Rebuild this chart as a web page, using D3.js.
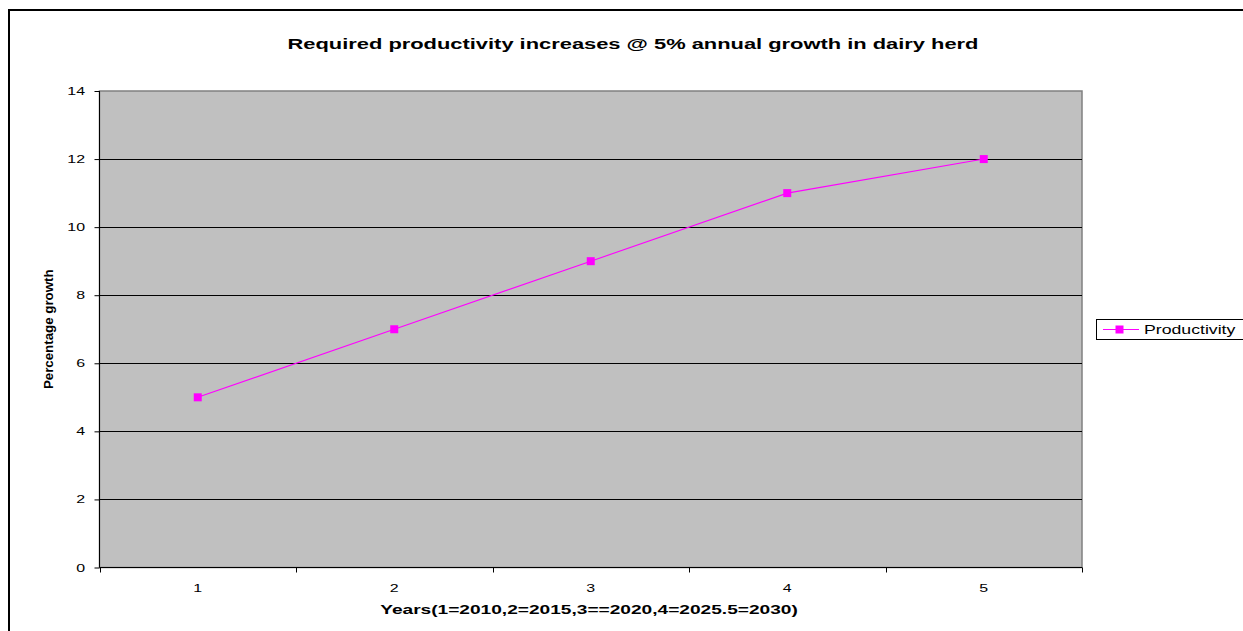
<!DOCTYPE html>
<html>
<head>
<meta charset="utf-8">
<script src="https://cdn.jsdelivr.net/npm/d3@7"></script>
<style>
  html, body { margin: 0; padding: 0; background: #fff; }
  svg { display: block; }
  text { font-family: Arial, "Liberation Sans", sans-serif; fill: #000; }
</style>
</head>
<body>
<svg id="chart" width="1243" height="631"></svg>
<script>
// Chart data
const categories = ["1", "2", "3", "4", "5"];
const productivity = [5, 7, 9, 11, 12];
const yTicks = [0, 2, 4, 6, 8, 10, 12, 14];
const seriesName = "Productivity";
const titleText = "Required productivity increases @ 5% annual growth in dairy herd";
const xTitleText = "Years(1=2010,2=2015,3==2020,4=2025.5=2030)";
const yTitleText = "Percentage growth";

const svg = d3.select("#chart");
const W = 1243, H = 631;
const plot = { left: 99.5, top: 91, right: 1082, bottom: 567.5 };

// Text in this chart uses a wide, horizontally stretched face
function label(parent, x, y, str, opts) {
  const o = Object.assign({ size: 12, weight: "normal", anchor: "start", sx: 1, rotate: 0 }, opts);
  const g = parent.append("g")
    .attr("transform", `translate(${x},${y}) rotate(${o.rotate}) scale(${o.sx},1)`);
  g.append("text")
    .attr("font-size", o.size).attr("font-weight", o.weight)
    .attr("text-anchor", o.anchor).text(str);
  return g;
}

// Outer chart frame (runs past the right and bottom edges)
svg.append("rect")
  .attr("x", 9).attr("y", 10)
  .attr("width", W + 20).attr("height", H + 20)
  .attr("fill", "#fff").attr("stroke", "#000").attr("stroke-width", 2);

const x = d3.scaleBand().domain(categories).range([plot.left, plot.right]);
const y = d3.scaleLinear().domain([0, 14]).range([plot.bottom, plot.top]);

// Plot area background
svg.append("rect")
  .attr("x", plot.left).attr("y", plot.top)
  .attr("width", plot.right - plot.left).attr("height", plot.bottom - plot.top)
  .attr("fill", "#c0c0c0").attr("stroke", "#808080").attr("stroke-width", 1.5);

// Horizontal gridlines
svg.append("g").selectAll("line")
  .data(yTicks.filter(d => d > 0 && d < 14))
  .join("line")
  .attr("x1", plot.left).attr("x2", plot.right)
  .attr("y1", d => Math.round(y(d)) + 0.5).attr("y2", d => Math.round(y(d)) + 0.5)
  .attr("stroke", "#000").attr("stroke-width", 1);

// Y axis
const yAxis = d3.axisLeft(y).tickValues(yTicks).tickSize(5).tickFormat(d3.format("d"));
const gy = svg.append("g").attr("transform", `translate(${plot.left},0)`).call(yAxis);
gy.select(".domain").attr("stroke", "#000").attr("d", `M0,${plot.top}V${plot.bottom}`);
gy.selectAll(".tick line").attr("stroke", "#000");
gy.selectAll(".tick text")
  .attr("font-size", 11).attr("fill", "#000")
  .attr("font-family", "Arial, 'Liberation Sans', sans-serif")
  .attr("transform", "scale(1.45,1)")
  .attr("x", -14.5 / 1.45);

// X axis: ticks at category boundaries, labels centered in each band
const gx = svg.append("g").attr("transform", `translate(0,${plot.bottom})`);
gx.append("line").attr("x1", plot.left).attr("x2", plot.right)
  .attr("y1", 0).attr("y2", 0).attr("stroke", "#000").attr("stroke-width", 1);
const boundaries = categories.map(c => x(c)).concat([x(categories[categories.length - 1]) + x.bandwidth()]);
gx.selectAll("line.tk").data(boundaries).join("line").attr("class", "tk")
  .attr("x1", d => Math.round(d) + 0.5).attr("x2", d => Math.round(d) + 0.5)
  .attr("y1", 0).attr("y2", 5).attr("stroke", "#000");
categories.forEach(c => {
  label(gx, x(c) + x.bandwidth() / 2, 24, c, { size: 11, anchor: "middle", sx: 1.45 });
});

// Series line and markers
const line = d3.line()
  .x((d, i) => x(categories[i]) + x.bandwidth() / 2)
  .y(d => y(d));
svg.append("path").datum(productivity)
  .attr("d", line).attr("fill", "none").attr("stroke", "#ff00ff").attr("stroke-width", 1.1);
svg.append("g").selectAll("rect").data(productivity).join("rect")
  .attr("x", (d, i) => x(categories[i]) + x.bandwidth() / 2 - 4)
  .attr("y", d => y(d) - 4)
  .attr("width", 8).attr("height", 8)
  .attr("fill", "#ff00ff");

// Titles
label(svg, 633, 48.5, titleText, { size: 14.5, weight: "bold", anchor: "middle", sx: 1.51 });
label(svg, 589, 614, xTitleText, { size: 12.5, weight: "bold", anchor: "middle", sx: 1.53 });
label(svg, 53, (plot.top + plot.bottom) / 2, yTitleText,
  { size: 12, weight: "bold", anchor: "middle", sx: 1.11, rotate: -90 });

// Legend
const lg = svg.append("g");
lg.append("rect").attr("x", 1096.5).attr("y", 319.5).attr("width", 200).attr("height", 20)
  .attr("fill", "#fff").attr("stroke", "#000").attr("stroke-width", 1);
lg.append("line").attr("x1", 1103).attr("x2", 1139).attr("y1", 329.5).attr("y2", 329.5)
  .attr("stroke", "#ff00ff").attr("stroke-width", 1.1);
lg.append("rect").attr("x", 1115.5).attr("y", 325.5).attr("width", 8).attr("height", 8).attr("fill", "#ff00ff");
label(lg, 1144, 334, seriesName, { size: 13.5, sx: 1.31 });
</script>
</body>
</html>
